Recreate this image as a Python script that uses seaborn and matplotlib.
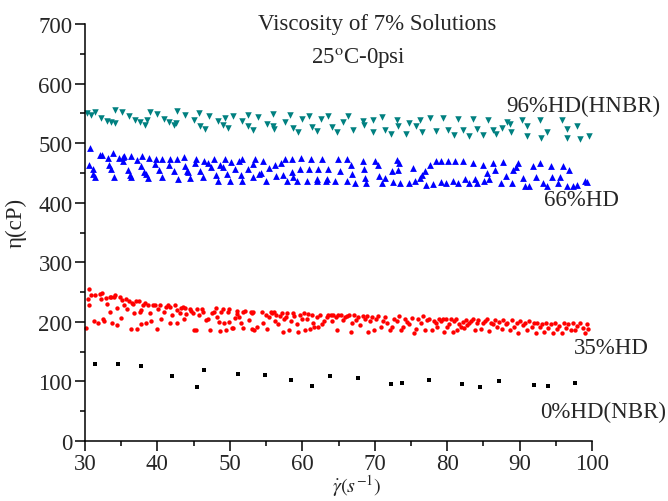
import matplotlib
matplotlib.use("Agg")
import matplotlib.pyplot as plt
from matplotlib.ticker import MultipleLocator
import seaborn as sns
import pandas as pd

# Shear rate (1/s) and viscosity (cP) readings for each HD content
hnbr_96 = [(30.23, 550.5), (30.83, 547.7), (31.33, 551.6), (32.16, 542.2), (32.99, 537.7),
           (33.59, 535.5), (34.19, 533.3), (34.19, 555.5), (35.15, 552.2), (36.12, 545.0),
           (36.90, 538.9), (37.64, 536.1), (38.33, 531.1), (38.51, 538.3), (38.97, 551.6),
           (39.94, 548.3), (40.86, 540.0), (41.55, 536.1), (42.33, 530.0), (42.61, 533.9),
           (42.70, 553.3), (43.85, 547.7), (45.00, 538.3), (45.78, 550.5), (45.92, 529.4),
           (46.52, 523.9), (47.12, 545.5), (48.41, 537.2), (49.10, 531.1), (49.37, 542.7),
           (49.79, 525.0), (50.39, 546.1), (51.67, 537.2), (52.46, 547.2), (52.55, 528.9),
           (53.19, 522.7), (53.84, 543.9), (55.13, 532.7), (55.91, 548.9), (56.00, 529.4),
           (56.09, 524.4), (57.61, 536.1), (58.26, 547.7), (58.72, 525.5), (59.41, 519.4),
           (59.91, 540.0), (60.97, 546.1), (61.34, 527.2), (62.03, 520.5), (62.54, 540.0),
           (63.59, 546.1), (64.05, 526.6), (64.75, 518.3), (65.58, 535.0), (66.36, 546.1),
           (66.96, 522.7), (68.43, 536.6), (68.57, 530.0), (69.72, 538.3), (69.72, 518.3),
           (70.96, 543.9), (71.42, 522.7), (72.21, 516.1), (73.03, 538.3), (73.26, 528.3),
           (74.32, 516.1), (74.69, 533.9), (75.70, 528.3), (76.26, 538.3), (76.49, 518.3),
           (77.64, 542.2), (78.46, 520.5), (79.48, 541.6), (80.17, 522.7), (80.95, 513.9),
           (81.46, 540.5), (82.15, 522.7), (83.07, 512.7), (83.53, 540.5), (84.08, 523.9),
           (85.00, 513.9), (85.60, 539.4), (86.38, 521.6), (86.70, 516.1), (87.58, 525.5),
           (88.22, 536.1), (88.68, 532.7), (88.82, 519.4), (90.38, 538.3), (90.98, 528.3),
           (90.98, 511.6), (92.82, 538.3), (92.91, 509.4), (93.74, 519.4), (95.81, 538.3),
           (96.50, 523.9), (96.50, 509.4), (97.88, 529.4), (98.34, 507.2), (99.63, 511.6)]

hd_66 = [(30.74, 491.6), (30.60, 463.3), (31.15, 457.2), (31.06, 448.3), (31.38, 443.3),
         (32.07, 479.4), (32.35, 480.5), (33.18, 475.0), (33.36, 462.7), (33.59, 456.1),
         (33.82, 482.7), (33.96, 443.9), (34.74, 475.0), (35.20, 476.1), (35.43, 477.8),
         (35.20, 469.4), (35.94, 455.0), (36.21, 447.2), (36.35, 442.7), (36.30, 477.8),
         (37.13, 471.6), (37.73, 462.2), (37.87, 478.3), (38.15, 451.6), (38.38, 448.3),
         (38.65, 441.6), (38.79, 475.5), (39.71, 464.4), (39.80, 472.7), (40.22, 454.4),
         (40.68, 473.9), (40.68, 442.7), (41.64, 462.7), (41.74, 473.3), (42.33, 453.9),
         (42.75, 472.7), (42.89, 440.5), (43.71, 476.6), (43.76, 461.6), (44.04, 453.9),
         (44.27, 451.6), (44.54, 441.6), (45.14, 467.2), (45.33, 472.7), (45.92, 453.3),
         (46.29, 442.7), (46.43, 470.5), (47.03, 466.1), (47.35, 460.5), (47.81, 472.7),
         (48.04, 447.2), (48.36, 437.2), (48.64, 462.7), (49.05, 460.5), (49.33, 472.7),
         (49.65, 447.7), (50.07, 437.2), (50.11, 468.3), (50.76, 457.2), (51.22, 469.4),
         (51.49, 447.2), (51.68, 472.7), (51.72, 437.2), (52.46, 457.2), (53.15, 464.4),
         (53.15, 442.7), (53.52, 472.7), (53.98, 448.3), (54.25, 449.4), (54.53, 470.5),
         (54.94, 437.2), (55.36, 458.3), (56.18, 463.9), (56.37, 445.0), (57.06, 467.2),
         (57.38, 447.2), (57.66, 473.9), (57.93, 437.2), (58.58, 451.6), (58.62, 473.9),
         (58.76, 442.7), (59.22, 437.2), (59.73, 456.1), (59.87, 475.0), (60.60, 436.6),
         (60.88, 457.2), (61.25, 473.9), (61.98, 436.1), (62.17, 457.2), (62.08, 439.4),
         (62.67, 472.7), (63.41, 439.4), (63.59, 457.2), (63.23, 436.1), (64.51, 436.1),
         (64.98, 472.7), (65.16, 453.3), (66.13, 473.9), (66.13, 436.1), (66.68, 462.7),
         (66.87, 448.3), (67.28, 432.7), (68.34, 469.4), (68.57, 457.2), (68.66, 441.6),
         (68.80, 432.7), (70.04, 469.4), (70.50, 462.7), (70.64, 445.0), (70.96, 432.7),
         (71.42, 441.6), (72.34, 452.7), (72.48, 435.0), (73.03, 471.6), (73.40, 467.2),
         (73.26, 455.0), (73.49, 432.7), (74.69, 432.7), (75.34, 458.3), (75.56, 436.1),
         (76.26, 441.6), (76.49, 447.2), (76.95, 452.7), (77.08, 429.4), (77.64, 463.9),
         (78.10, 431.6), (78.46, 469.4), (79.15, 469.4), (79.11, 435.0), (79.84, 432.7),
         (80.17, 470.0), (80.77, 436.1), (81.09, 470.0), (81.55, 432.7), (82.24, 469.4),
         (82.47, 439.4), (83.07, 432.7), (83.53, 467.2), (83.89, 440.5), (84.08, 432.7),
         (84.91, 463.9), (85.09, 436.1), (85.55, 450.5), (85.83, 439.4), (86.38, 466.1),
         (86.61, 455.0), (87.39, 432.7), (87.76, 468.3), (88.13, 445.0), (88.91, 432.7),
         (89.14, 455.0), (89.51, 459.4), (89.83, 467.2), (90.43, 441.6), (90.75, 428.3),
         (91.35, 428.3), (91.90, 461.6), (92.27, 442.7), (92.82, 466.1), (93.28, 432.7),
         (93.83, 428.3), (94.30, 461.6), (94.43, 442.7), (95.35, 432.7), (95.58, 443.9),
         (96.04, 461.6), (96.50, 428.3), (96.87, 455.0), (97.42, 428.3), (97.88, 430.5),
         (99.03, 436.6), (99.26, 435.0)]

hd_35 = [(30.09, 188.9), (30.55, 255.0), (30.46, 237.8), (30.51, 228.3), (30.87, 245.0),
         (31.29, 201.1), (31.38, 245.0), (31.75, 198.9), (32.07, 246.7), (32.21, 237.8),
         (32.39, 247.8), (32.53, 205.6), (32.62, 200.6), (32.90, 239.4), (33.08, 230.0),
         (33.41, 242.2), (33.50, 217.2), (33.59, 241.1), (33.77, 197.8), (34.05, 242.2),
         (34.19, 244.4), (34.37, 222.8), (34.46, 195.0), (34.79, 241.1), (34.97, 206.1),
         (35.06, 236.7), (35.34, 227.8), (35.66, 237.8), (35.75, 222.2), (36.12, 234.4),
         (36.30, 187.8), (36.53, 232.2), (36.67, 230.0), (36.81, 214.4), (37.04, 234.4),
         (37.23, 187.8), (37.50, 235.6), (37.59, 216.7), (37.69, 220.0), (37.73, 195.6),
         (38.01, 227.8), (38.28, 231.1), (38.42, 197.8), (38.65, 228.9), (38.97, 214.4),
         (39.16, 201.1), (39.34, 227.8), (39.66, 227.8), (39.89, 187.8), (40.08, 221.1),
         (40.35, 227.8), (40.54, 204.4), (40.91, 216.7), (41.18, 225.6), (41.46, 227.8),
         (41.74, 225.6), (41.74, 197.8), (42.01, 212.2), (42.47, 227.8), (42.66, 197.8),
         (42.75, 220.0), (43.12, 215.6), (43.25, 223.3), (43.58, 225.6), (43.67, 204.4),
         (43.85, 223.3), (43.94, 213.3), (44.50, 222.2), (44.63, 218.9), (44.96, 214.4),
         (45.05, 186.7), (45.33, 186.7), (45.51, 222.2), (45.69, 211.1), (46.11, 222.2),
         (46.34, 216.7), (46.71, 203.3), (47.03, 205.6), (47.26, 186.7), (47.49, 215.6),
         (47.81, 216.7), (48.09, 223.3), (48.27, 207.8), (48.55, 200.0), (48.64, 184.4),
         (48.73, 216.7), (49.10, 221.1), (49.24, 198.9), (49.47, 186.7), (49.74, 216.7),
         (49.93, 222.2), (49.93, 200.0), (50.25, 190.0), (50.48, 190.0), (50.66, 206.7),
         (50.94, 218.9), (51.03, 213.3), (51.22, 207.8), (51.54, 198.9), (51.86, 188.9),
         (51.86, 216.7), (52.04, 218.9), (52.69, 203.3), (52.87, 216.7), (53.01, 214.4),
         (53.01, 187.8), (53.19, 216.7), (53.38, 185.6), (53.70, 192.2),
         (54.39, 216.7), (54.62, 198.9), (54.99, 212.2), (55.17, 187.8), (55.45, 208.9),
         (55.63, 216.7), (55.82, 214.4), (56.09, 216.7), (56.23, 202.2), (56.37, 212.2),
         (56.65, 196.7), (56.92, 210.0), (57.15, 214.4), (57.29, 183.3), (57.52, 204.4),
         (57.75, 208.9), (57.93, 214.4), (58.21, 185.6), (58.39, 201.1), (58.67, 214.4),
         (58.85, 210.0), (59.22, 196.7), (59.45, 183.3), (59.68, 212.2), (59.91, 204.4),
         (60.24, 214.4), (60.37, 186.7), (60.60, 205.6), (60.83, 213.3), (61.06, 187.8),
         (61.34, 212.2), (61.52, 198.9), (61.62, 192.2), (61.98, 207.8), (62.21, 191.1),
         (62.44, 212.2), (62.67, 196.7), (63.00, 201.1), (63.36, 208.9), (63.59, 212.2),
         (63.92, 212.2), (64.05, 201.1), (64.29, 211.1), (64.65, 207.8), (64.84, 185.6),
         (64.98, 212.2), (65.30, 212.2), (65.57, 203.3), (65.90, 207.8), (66.13, 210.0),
         (66.49, 212.2), (66.68, 182.2), (66.82, 197.8), (67.14, 212.2), (67.41, 203.3),
         (67.74, 207.8), (67.97, 194.4), (68.33, 210.0), (68.66, 205.6), (68.98, 210.0),
         (69.12, 183.3), (69.35, 201.1), (69.58, 207.8), (69.90, 185.6), (70.18, 204.4),
         (70.50, 210.0), (70.82, 192.2), (71.10, 201.1), (71.42, 207.8), (71.74, 198.9),
         (72.11, 185.6), (72.34, 192.2), (72.66, 204.4), (73.03, 201.1), (73.40, 210.0),
         (73.58, 185.6), (73.86, 192.2), (74.18, 205.6), (74.50, 200.0), (74.78, 196.7),
         (75.10, 206.7), (75.42, 181.1), (75.70, 187.8), (76.02, 204.4), (76.34, 198.9),
         (76.62, 210.0), (76.94, 185.6), (77.17, 203.3), (77.54, 205.6),
         (77.86, 186.7), (78.18, 202.2), (78.46, 197.8), (78.64, 191.1), (78.92, 205.6),
         (79.10, 201.1), (79.38, 205.6), (79.56, 183.3), (79.84, 204.4), (80.02, 192.2),
         (80.30, 196.7), (80.48, 204.4), (80.76, 183.3), (80.94, 201.1), (81.22, 204.4),
         (81.40, 186.7), (81.68, 195.6), (81.86, 192.2), (82.14, 200.0), (82.32, 188.9),
         (82.60, 203.3), (82.78, 194.4), (83.06, 197.8), (83.24, 201.1), (83.52, 204.4),
         (83.84, 186.7), (84.07, 198.9), (84.30, 203.3), (84.63, 187.8), (84.90, 197.8),
         (85.22, 201.1), (85.45, 204.4), (85.82, 184.4), (86.01, 198.9), (86.28, 195.6),
         (86.60, 203.3), (86.93, 192.2), (87.20, 200.0), (87.52, 187.8), (87.76, 203.3),
         (88.12, 195.6), (88.31, 198.9), (88.68, 185.6), (88.91, 203.3), (89.23, 192.2),
         (89.60, 198.9), (89.83, 181.1), (90.06, 201.1), (90.42, 194.4), (90.75, 198.9),
         (91.07, 186.7), (91.34, 201.1), (91.67, 192.2), (91.99, 197.8), (92.26, 181.1),
         (92.45, 198.9), (92.82, 191.1), (93.05, 195.6), (93.37, 183.3), (93.65, 198.9),
         (93.97, 188.9), (94.29, 195.6), (94.57, 181.1), (94.89, 197.8), (95.21, 187.8),
         (95.49, 193.3), (95.81, 181.1), (96.13, 197.8), (96.41, 188.9), (96.73, 195.6),
         (97.05, 186.7), (97.33, 197.8), (97.65, 186.7), (97.97, 193.3), (98.34, 197.8),
         (98.71, 190.0), (99.03, 181.1), (99.26, 196.7), (99.49, 187.8)]

nbr_0 = [(31.4, 130.0), (34.6, 130.0), (37.8, 125.5), (42.0, 109.0), (45.5, 91.0),
         (46.4, 119.0), (51.1, 113.0), (54.9, 110.5), (58.4, 103.0), (61.4, 92.0),
         (63.8, 109.0), (67.7, 105.0), (72.2, 95.0), (73.7, 97.0), (77.5, 102.0),
         (82.0, 96.0), (84.5, 90.5), (87.1, 101.0), (92.0, 94.0), (93.9, 93.0),
         (97.7, 98.0)]

series_names = ["96%HD(HNBR)", "66%HD", "35%HD", "0%HD(NBR)"]
series_data = [hnbr_96, hd_66, hd_35, nbr_0]
series_colors = ["#008080", "#0000FF", "#FF0000", "#000000"]
series_markers = ["v", "^", "o", "s"]
series_sizes = [22, 24, 10, 6]

# Label anchors (shear rate, viscosity) for the series names
label_pos = [(88.1, 554), (93.4, 396), (97.5, 148), (92.9, 40)]

title = "Viscosity of 7% Solutions"
subtitle = "25$^{\\mathrm{o}}$C-0psi"

sns.set_theme(style="ticks")
plt.rcParams["font.family"] = ["Liberation Serif", "DejaVu Serif"]
plt.rcParams["mathtext.fontset"] = "stix"

fig = plt.figure(figsize=(6.68, 5.02), dpi=100)
ax = fig.add_axes([85 / 668, 1 - 442 / 502, 507 / 668, 417 / 502])

for name, pts, col, mk, sz in zip(series_names, series_data, series_colors,
                                   series_markers, series_sizes):
    df = pd.DataFrame(pts, columns=["rate", "eta"])
    sns.scatterplot(data=df, x="rate", y="eta", ax=ax, color=col, marker=mk,
                    s=sz, linewidth=0, legend=False, clip_on=False)

ax.set_xlim(30, 100)
ax.set_ylim(0, 700)
ax.xaxis.set_major_locator(MultipleLocator(10))
ax.xaxis.set_minor_locator(MultipleLocator(5))
ax.yaxis.set_major_locator(MultipleLocator(100))
ax.yaxis.set_minor_locator(MultipleLocator(50))
ax.tick_params(which="major", direction="out", length=7, width=1.1,
               labelsize=16.5, color="black", pad=2)
ax.tick_params(which="minor", direction="out", length=3.5, width=1.1, color="black")
for side in ["top", "right"]:
    ax.spines[side].set_visible(False)
for side in ["left", "bottom"]:
    ax.spines[side].set_linewidth(1.1)
    ax.spines[side].set_color("black")

ax.set_xlabel(r"$\dot{\gamma}(s^{-1})$", fontsize=14.5)
ax.set_ylabel("η(cP)", fontsize=16.5)
ax.xaxis.set_label_coords(0.535, -0.074)
ax.yaxis.set_label_coords(-0.115, 0.525)

for name, (lx, ly) in zip(series_names, label_pos):
    ax.text(lx, ly, name, fontsize=16.5, ha="left", va="baseline", clip_on=False)

ax.text(70.3, 692, title, fontsize=16.5, ha="center", va="baseline")
ax.text(67.7, 634, subtitle, fontsize=16.5, ha="center", va="baseline")

fig.savefig("out.png", dpi=100)
